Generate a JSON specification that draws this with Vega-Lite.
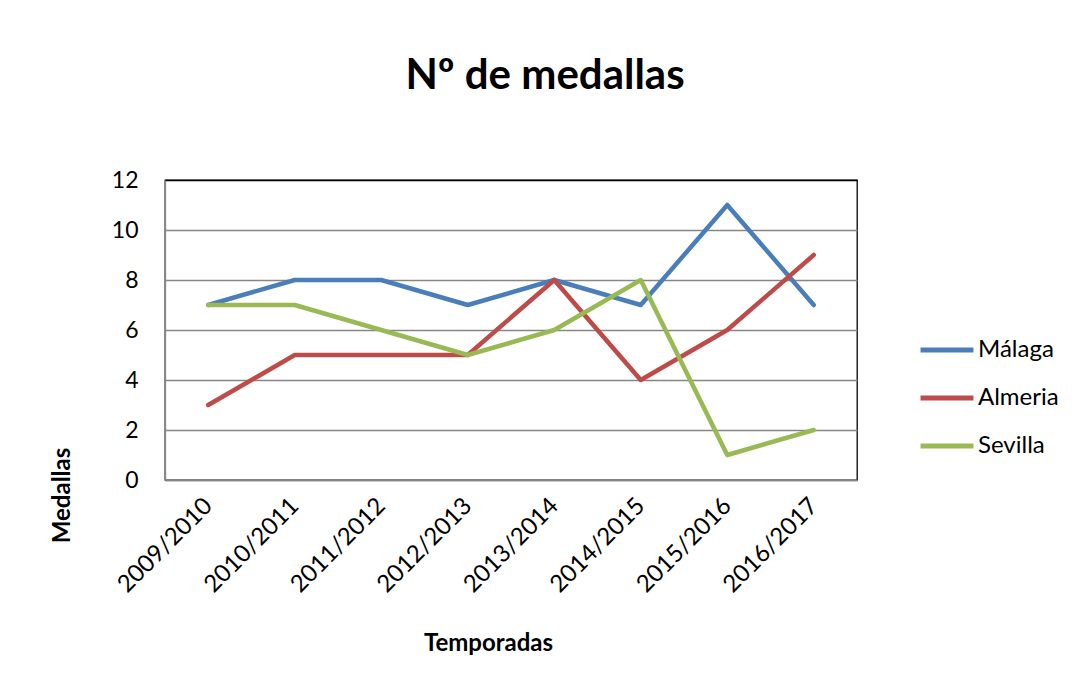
{
  "$schema": "https://vega.github.io/schema/vega-lite/v6.json",
  "width": 692,
  "height": 300,
  "autosize": {"type": "none"},
  "padding": {"left": 165, "top": 180, "right": 215, "bottom": 213},
  "background": "white",
  "title": {
    "text": "Nº de medallas",
    "font": "Lato",
    "fontSize": 42,
    "fontWeight": "bold",
    "color": "#000000",
    "anchor": "middle",
    "dx": 34,
    "offset": 71
  },
  "config": {
    "view": {"stroke": "#000000", "strokeWidth": 1.3},
    "font": "Lato"
  },
  "data": {
    "values": [
      {"temporada": "2009/2010", "serie": "Málaga", "medallas": 7},
      {"temporada": "2010/2011", "serie": "Málaga", "medallas": 8},
      {"temporada": "2011/2012", "serie": "Málaga", "medallas": 8},
      {"temporada": "2012/2013", "serie": "Málaga", "medallas": 7},
      {"temporada": "2013/2014", "serie": "Málaga", "medallas": 8},
      {"temporada": "2014/2015", "serie": "Málaga", "medallas": 7},
      {"temporada": "2015/2016", "serie": "Málaga", "medallas": 11},
      {"temporada": "2016/2017", "serie": "Málaga", "medallas": 7},
      {"temporada": "2009/2010", "serie": "Almeria", "medallas": 3},
      {"temporada": "2010/2011", "serie": "Almeria", "medallas": 5},
      {"temporada": "2011/2012", "serie": "Almeria", "medallas": 5},
      {"temporada": "2012/2013", "serie": "Almeria", "medallas": 5},
      {"temporada": "2013/2014", "serie": "Almeria", "medallas": 8},
      {"temporada": "2014/2015", "serie": "Almeria", "medallas": 4},
      {"temporada": "2015/2016", "serie": "Almeria", "medallas": 6},
      {"temporada": "2016/2017", "serie": "Almeria", "medallas": 9},
      {"temporada": "2009/2010", "serie": "Sevilla", "medallas": 7},
      {"temporada": "2010/2011", "serie": "Sevilla", "medallas": 7},
      {"temporada": "2011/2012", "serie": "Sevilla", "medallas": 6},
      {"temporada": "2012/2013", "serie": "Sevilla", "medallas": 5},
      {"temporada": "2013/2014", "serie": "Sevilla", "medallas": 6},
      {"temporada": "2014/2015", "serie": "Sevilla", "medallas": 8},
      {"temporada": "2015/2016", "serie": "Sevilla", "medallas": 1},
      {"temporada": "2016/2017", "serie": "Sevilla", "medallas": 2}
    ]
  },
  "mark": {"type": "line", "strokeWidth": 4.5, "strokeCap": "round", "strokeJoin": "round"},
  "encoding": {
    "x": {
      "field": "temporada",
      "type": "ordinal",
      "scale": {"type": "point", "padding": 0.5},
      "axis": {
        "title": "Temporadas",
        "titleFont": "Lato",
        "titleFontSize": 24,
        "titleFontWeight": "bold",
        "titleColor": "#000000",
        "titleX": 323,
        "titleY": 163,
        "titleBaseline": "middle",
        "titleAlign": "center",
        "labelAngle": -45,
        "labelAlign": "right",
        "labelBaseline": "middle",
        "labelFontSize": 24,
        "labelColor": "#000000",
        "labelPadding": 22,
        "ticks": false,
        "domainColor": "#868686",
        "domainWidth": 1.3,
        "grid": false
      }
    },
    "y": {
      "field": "medallas",
      "type": "quantitative",
      "scale": {"domain": [0, 12], "nice": false},
      "axis": {
        "title": "Medallas",
        "titleFont": "Lato",
        "titleFontSize": 24,
        "titleFontWeight": "bold",
        "titleColor": "#000000",
        "titleAngle": -90,
        "titleX": -103,
        "titleY": 315,
        "titleBaseline": "middle",
        "titleAlign": "center",
        "values": [0, 2, 4, 6, 8, 10, 12],
        "labelFontSize": 23,
        "labelColor": "#000000",
        "labelPadding": 27,
        "ticks": false,
        "domainColor": "#868686",
        "domainWidth": 1.3,
        "gridColor": {"condition": {"test": "datum.value === 12", "value": "#000000"}, "value": "#868686"},
        "gridWidth": 1.3
      }
    },
    "color": {
      "field": "serie",
      "type": "nominal",
      "sort": ["Málaga", "Almeria", "Sevilla"],
      "scale": {"domain": ["Málaga", "Almeria", "Sevilla"], "range": ["#4A7EBB", "#BE4B48", "#98B954"]},
      "legend": {
        "title": null,
        "orient": "none",
        "legendX": 753,
        "legendY": 141,
        "symbolType": "stroke",
        "symbolSize": 2800,
        "symbolStrokeWidth": 5,
        "labelFontSize": 24,
        "labelColor": "#000000",
        "labelOffset": 2,
        "rowPadding": 7
      }
    }
  }
}
